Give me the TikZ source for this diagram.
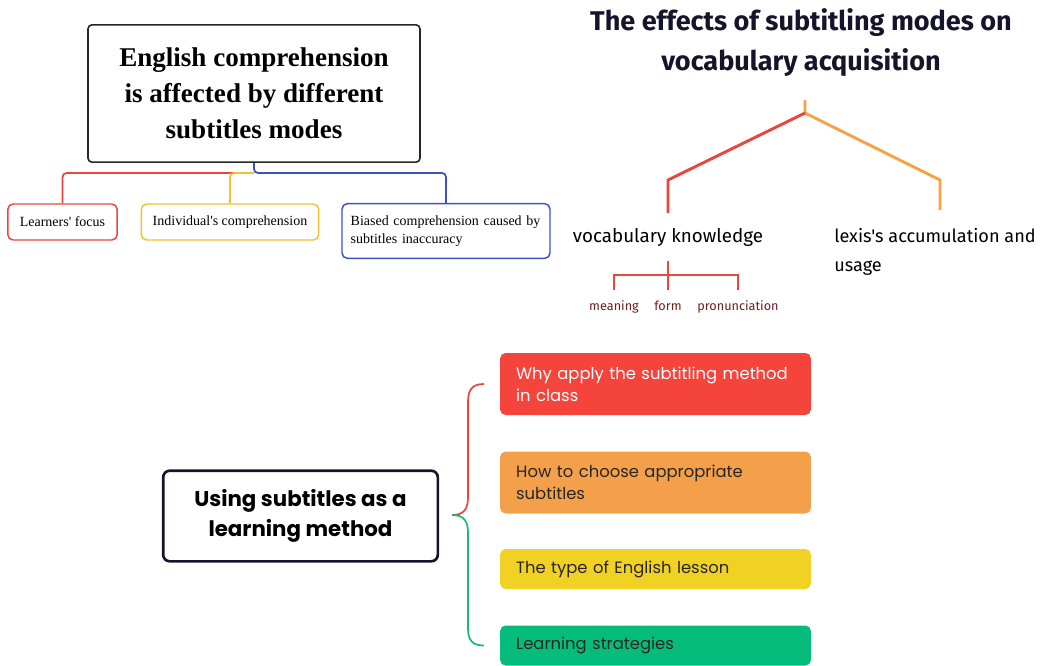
\documentclass[tikz,border=0pt]{standalone}
\usepackage{fontspec}
\setmainfont{Liberation Serif}
\newfontfamily\headfont{Fira Sans}
\newfontfamily\boxfont{Poppins}
\usetikzlibrary{shapes,arrows.meta}

\definecolor{lred}{HTML}{E8473E}
\definecolor{lyellow}{HTML}{F0C232}
\definecolor{lblue}{HTML}{3A52C4}
\definecolor{lorange}{HTML}{F2A447}
\definecolor{lgreen}{HTML}{1DB878}
\definecolor{lnavy}{HTML}{14142B}
\definecolor{ldark}{HTML}{6B1F1F}
\definecolor{fred}{HTML}{F5443C}
\definecolor{forange}{HTML}{F4A04B}
\definecolor{fyellow}{HTML}{F2D125}
\definecolor{fgreen}{HTML}{05BC7C}

\begin{document}
\begin{tikzpicture}[x=0.75pt,y=-0.75pt]
	\tikzstyle{every node}=[inner sep=0pt]
	\tikzstyle{mainbox}=[draw=black!85, line width=1.2pt, rounded corners=3pt, align=center]
	\tikzstyle{subbox}=[line width=1.1pt, rounded corners=4pt, minimum height=27pt, font=\fontsize{10.5}{14}\selectfont]
	\tikzstyle{branch}=[line width=1.3pt, rounded corners=3pt]
	\tikzstyle{tree}=[line width=2.2pt]
	\tikzstyle{tag}=[anchor=north, inner ysep=8pt, text=ldark, font=\headfont\fontsize{9.5}{11}\selectfont]
	\tikzstyle{colbox}=[rounded corners=4pt, minimum width=233pt, text width=209pt, inner xsep=12pt, align=left, font=\boxfont\fontsize{12.3}{16.5}\selectfont]

	\useasboundingbox (0,0) rectangle (1045,665);

	%% left : comprehension
	\node [mainbox, minimum width=249pt, minimum height=103pt, font=\fontsize{20.3}{27}\selectfont\bfseries] (engbox) at (254,93.5)
		{English comprehension\\is affected by different\\subtitles modes};
	\node [subbox, draw=lred, minimum width=82pt] (focus) at (62.5,222) {Learners\textquotesingle\ focus};
	\node [subbox, draw=lyellow, minimum width=133pt] (indiv) at (230,222) {Individual\textquotesingle s comprehension};
	\node [subbox, draw=lblue, minimum width=156pt, minimum height=41pt, align=left, text width=143pt] (biased) at (446,231)
		{Biased comprehension caused by\\subtitles inaccuracy};
	\coordinate (jA) at (254,173);
	\draw [branch, lred] (jA) -| (focus.north);
	\draw [branch, lyellow] (jA) -| (indiv.north);
	\draw [branch, lblue] (engbox.south) -- (jA) -| (biased.north);

	%% right : vocabulary
	\node [align=center, text=lnavy, font=\headfont\fontsize{20.3}{30}\selectfont\bfseries] (effects) at (801,43)
		{The effects of subtitling modes on\\vocabulary acquisition};
	\node [inner ysep=11pt, font=\headfont\fontsize{14.1}{21}\selectfont] (vocab) at (668,237) {vocabulary knowledge};
	\node [anchor=north west, align=left, font=\headfont\fontsize{13.6}{21.5}\selectfont] (lexis) at (834,228) {lexis's accumulation and\\usage};
	\coordinate (jB) at (805,113);
	\coordinate (kneeL) at (668,180);
	\coordinate (kneeR) at (940,180);
	\draw [tree, lorange] (805,100) -- (jB) -- (kneeR) -- (940,210);
	\draw [tree, lred] (jB) -- (kneeL) -- (vocab.north);
	\node [tag] (meaning) at (614,290) {meaning};
	\node [tag] (form) at (668,290) {form};
	\node [tag] (pron) at (738,290) {pronunciation};
	\draw [line width=1.2pt, lred] (vocab.south) -- (form.north);
	\draw [line width=1.2pt, lred] (meaning.north) -- ++(0,-15) -| (pron.north);

	%% bottom : method
	\node [draw=lnavy, line width=2pt, rounded corners=5pt, minimum width=206pt, minimum height=68pt, align=center,
		font=\boxfont\fontsize{16}{22}\selectfont\bfseries] (using) at (300.5,516) {Using subtitles as a\\learning method};
	\node [colbox, fill=fred, text=white, minimum height=46.5pt] (why) at (655.5,384) {Why apply the subtitling method\\in class};
	\node [colbox, fill=forange, text=black!85, minimum height=46.5pt] (how) at (655.5,482.5) {How to choose appropriate\\subtitles};
	\node [colbox, fill=fyellow, text=black!85, minimum height=30pt] (type) at (655.5,569) {The type of English lesson};
	\node [colbox, fill=fgreen, text=black!85, minimum height=30pt] (strat) at (655.5,645.5) {Learning strategies};
	\coordinate (tip) at (452,515);
	\draw [line width=1.3pt, lred] (tip) .. controls (464,515) and (468,509) .. (468,497) -- (468,402)
		.. controls (468,390) and (472,384) .. ([xshift=-12pt]why.west);
	\draw [line width=1.3pt, lgreen] (tip) .. controls (464,515) and (468,521) .. (468,533) -- (468,628)
		.. controls (468,640) and (472,645.5) .. ([xshift=-12pt]strat.west);

\end{tikzpicture}
\end{document}
